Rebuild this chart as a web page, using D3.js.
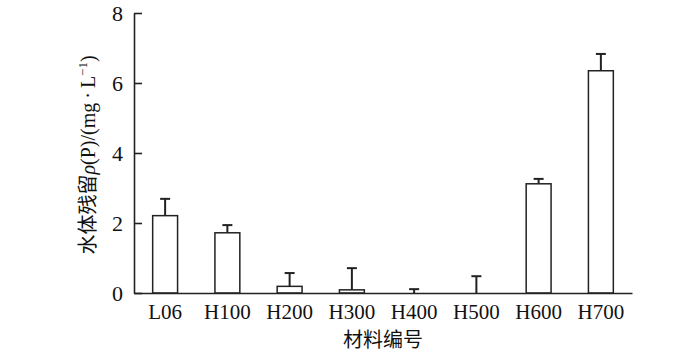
<!DOCTYPE html>
<html>
<head>
<meta charset="utf-8">
<script src="https://cdn.jsdelivr.net/npm/d3@7"></script>
<style>
  body { margin: 0; background: #fff; }
  text { font-family: "Liberation Serif", "Times New Roman", "Noto Sans CJK SC", serif; fill: #111; }
</style>
</head>
<body>
<div id="chart"></div>
<script>
var categories = ["L06", "H100", "H200", "H300", "H400", "H500", "H600", "H700"];
var values = [2.21, 1.72, 0.19, 0.09, 0.0, 0.0, 3.12, 6.35];
var errors = [0.48, 0.22, 0.38, 0.62, 0.11, 0.48, 0.14, 0.48];
var yTicks = [0, 2, 4, 6, 8];

var width = 700, height = 355;
var margin = {left: 134, right: 68, top: 13, bottom: 62};

var svg = d3.select("#chart").append("svg")
  .attr("width", width)
  .attr("height", height);

var x = d3.scaleBand()
  .domain(categories)
  .range([margin.left, width - margin.right])
  .paddingInner(0.6)
  .paddingOuter(0.3);

var y = d3.scaleLinear()
  .domain([0, 8])
  .range([height - margin.bottom, margin.top]);

// bars
svg.selectAll(".bar")
  .data(categories)
  .enter()
  .append("rect")
    .attr("class", "bar")
    .attr("x", function(d){ return x(d); })
    .attr("width", x.bandwidth())
    .attr("y", function(d, i){ return y(values[i]); })
    .attr("height", function(d, i){ return y(0) - y(values[i]); })
    .attr("fill", "#fff")
    .attr("stroke", "#222")
    .attr("stroke-width", 1.5);

// error bars (upper only)
var errG = svg.selectAll(".err")
  .data(categories)
  .enter()
  .append("g")
    .attr("class", "err")
    .attr("stroke", "#222")
    .attr("stroke-width", 2);
errG.append("line")
  .attr("x1", function(d){ return x(d) + x.bandwidth() / 2; })
  .attr("x2", function(d){ return x(d) + x.bandwidth() / 2; })
  .attr("y1", function(d, i){ return y(values[i]); })
  .attr("y2", function(d, i){ return y(values[i] + errors[i]); });
errG.append("line")
  .attr("x1", function(d){ return x(d) + x.bandwidth() / 2 - 5; })
  .attr("x2", function(d){ return x(d) + x.bandwidth() / 2 + 5; })
  .attr("y1", function(d, i){ return y(values[i] + errors[i]); })
  .attr("y2", function(d, i){ return y(values[i] + errors[i]); });

// y axis
var yAxis = d3.axisRight(y).tickValues(yTicks).tickSize(8).tickSizeOuter(0);
var yG = svg.append("g")
  .attr("transform", "translate(" + margin.left + ",0)")
  .call(yAxis);
yG.select(".domain").attr("stroke", "#222").attr("stroke-width", 1.6);
yG.selectAll(".tick line").attr("stroke", "#222").attr("stroke-width", 1.6);
yG.selectAll(".tick text")
  .attr("x", -11)
  .attr("text-anchor", "end")
  .attr("font-size", 22)
  .attr("fill", "#111");

// x axis
var xAxis = d3.axisBottom(x).tickSize(0).tickSizeOuter(0);
var xG = svg.append("g")
  .attr("transform", "translate(0," + y(0) + ")")
  .call(xAxis);
xG.select(".domain").attr("stroke", "#222").attr("stroke-width", 1.6);
xG.selectAll(".tick text")
  .attr("y", 11)
  .attr("font-size", 21)
  .attr("fill", "#111");

// axis titles
svg.append("text")
  .attr("x", (margin.left + width - margin.right) / 2)
  .attr("y", 347)
  .attr("text-anchor", "middle")
  .attr("font-size", 20)
  .text("材料编号");

var yt = svg.append("text")
  .attr("transform", "translate(95,155) rotate(-90)")
  .attr("text-anchor", "middle")
  .attr("font-size", 20);
yt.append("tspan").text("水体残留");
yt.append("tspan").attr("font-style", "italic").text("ρ");
yt.append("tspan").text("(P)/(mg\u2009·\u2009L");
yt.append("tspan").attr("font-size", 13).attr("dy", -8).text("−1");
yt.append("tspan").attr("dy", 8).text(")");
</script>
</body>
</html>
